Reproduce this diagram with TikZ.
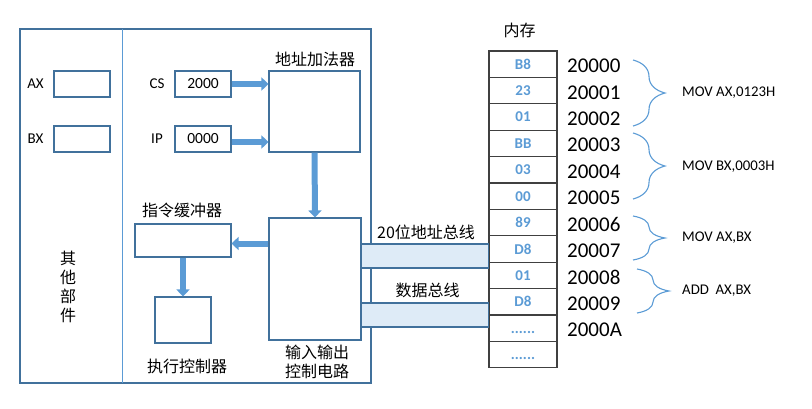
\documentclass[tikz,border=0pt]{standalone}
\usepackage{fontspec}
\setmainfont{Carlito}
\newfontfamily\cjk{Noto Sans CJK SC}
\usetikzlibrary{arrows.meta,calc,decorations.pathreplacing}
\definecolor{edge}{HTML}{41719C}
\definecolor{accent}{HTML}{5B9BD5}
\definecolor{busfill}{HTML}{DEEBF7}
\definecolor{cellline}{HTML}{404040}
\newcommand\celldots{\vphantom{B8}......}

\begin{document}
\begin{tikzpicture}[x=1pt, y=-1pt,
	box/.style={draw=edge, line width=1.1pt, fill=white, inner sep=0pt},
	reg/.style={box, minimum width=56pt, minimum height=26pt, font=\fontsize{15.5}{17}\selectfont},
	cell/.style={draw=cellline, line width=1.2pt, fill=white, minimum width=68pt, minimum height=26.4pt, inner sep=0pt, text=accent, font=\fontsize{15}{17}\selectfont\bfseries},
	addr/.style={anchor=west, inner sep=0pt, font=\fontsize{21}{23}\selectfont},
	lbl/.style={inner sep=0pt, font=\fontsize{15}{17}\selectfont},
	zh/.style={inner sep=0pt, align=center, font=\fontsize{16}{19}\selectfont\cjk},
	ins/.style={anchor=west, inner sep=0pt, font=\fontsize{14.8}{17}\selectfont},
	fat/.style={draw=accent, line width=6pt, -{Triangle[length=7pt,width=13pt]}},
	bus/.style={draw=edge, line width=1.1pt, fill=busfill},
	brc/.style={draw=accent, line width=1.1pt, decorate, decoration={brace, amplitude=32pt, aspect=0.5}}]
	\useasboundingbox (0,0) rectangle (812,408);

	% CPU
	\draw[draw=edge, line width=1.1pt] (20,29) rectangle (371,383);
	\draw[draw=accent, line width=1pt] (122,29) -- (122,383);

	\node[lbl] (axl) at (35.5,84) {AX};
	\node[reg] (ax) at (82,84) {};
	\node[lbl] (bxl) at (35.5,139) {BX};
	\node[reg] (bx) at (82,139) {};
	\node[zh] (other) at (68,287) {其\\他\\部\\件};

	\node[lbl] (csl) at (157,84) {CS};
	\node[reg] (cs) at (203,84) {2000};
	\node[lbl] (ipl) at (157,139) {IP};
	\node[reg] (ip) at (203,139) {0000};

	\node[box, minimum width=91pt, minimum height=81pt] (adder) at (314.5,111.5) {};
	\node[zh] (adderl) at (315,59) {地址加法器};
	\node[box, minimum width=92pt, minimum height=122pt] (io) at (315,279) {};
	\node[zh] (iol) at (317,362) {输入输出\\控制电路};
	\node[box, minimum width=96pt, minimum height=33pt] (buf) at (183,240.5) {};
	\node[zh] (bufl) at (182,210) {指令缓冲器};
	\node[box, minimum width=56pt, minimum height=46pt] (exec) at (183,320) {};
	\node[zh] (execl) at (187,366) {执行控制器};

	\draw[fat] (cs.east) -- (cs.east -| adder.west);
	\draw[fat] ($(ip.east)+(0,3)$) -- ($(ip.east -| adder.west)+(0,3)$);
	\draw[fat] (adder.south) -- (io.north);
	\draw[fat] ($(io.west |- buf.east)+(0,3)$) -- ($(buf.east)+(0,3)$);
	\draw[fat] (buf.south) -- (exec.north);

	% memory
	\node[zh] (meml) at (519.5,30) {内存};
	\foreach \v [count=\i from 0] in {B8,23,01,BB,03,00,89,D8,01,D8,\celldots,\celldots}
		\node[cell] (m\i) at (523,64.2+26.4*\i) {\v};
	\foreach \a [count=\i from 0] in {20000,20001,20002,20003,20004,20005,20006,20007,20008,20009,2000A}
		\node[addr] (a\i) at (567,66+26.4*\i) {\a};

	% buses
	\draw[bus] (io.east |- 0,244) rectangle (m0.west |- 0,268);
	\draw[bus] (io.east |- 0,303) rectangle (m0.west |- 0,327);
	\node[zh] (abusl) at (426,232) {20位地址总线};
	\node[zh] (dbusl) at (427.5,290) {数据总线};

	% instructions
	\draw[brc] (633,60) -- (633,126);
	\node[ins] (i1) at (682,93) {MOV AX,0123H};
	\draw[brc] (633,133) -- (633,199);
	\node[ins] (i2) at (682,167) {MOV BX,0003H};
	\draw[brc] (633,216) -- (633,260);
	\node[ins] (i3) at (682,238) {MOV AX,BX};
	\draw[brc] (637,269) -- (637,313);
	\node[ins] (i4) at (682,291) {ADD~~AX,BX};
\end{tikzpicture}
\end{document}
